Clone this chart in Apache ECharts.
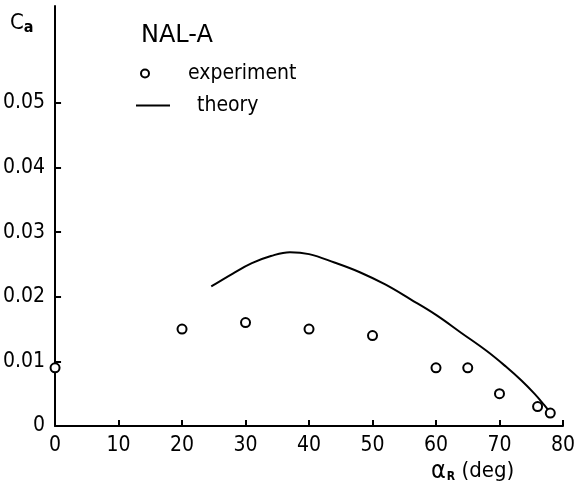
<!DOCTYPE html>
<html>
<head>
<meta charset="utf-8">
<script src="https://cdn.jsdelivr.net/npm/echarts@6/dist/echarts.min.js"></script>
<style>
  html, body { margin: 0; padding: 0; background: #fff; }
  #chart { width: 578px; height: 488px; }
</style>
</head>
<body>
<div id="chart"></div>
<script>
// NAL-A: measured and predicted C_a versus roll angle alpha_R
const expAlpha = [0, 20, 30, 40, 50, 60, 65, 70, 76, 78];
const expCa = [0.009, 0.015, 0.016, 0.015, 0.014, 0.009, 0.009, 0.005, 0.003, 0.002];

const theoryAlpha = [24.6, 28, 31, 34, 37, 40, 44, 48, 52, 56, 60, 64, 68, 71, 73.5, 75.5, 77, 77.8];
const theoryCa = [0.0216, 0.0236, 0.0252, 0.0263, 0.0269, 0.0266, 0.0253, 0.0238, 0.0219, 0.0196, 0.0172, 0.0144, 0.0116, 0.0092, 0.0070, 0.0050, 0.0033, 0.0023];

const yTicks = [0, 0.01, 0.02, 0.03, 0.04, 0.05];
const yTickLabels = ['0', '0.01', '0.02', '0.03', '0.04', '0.05'];
const xTicks = [0, 10, 20, 30, 40, 50, 60, 70, 80];

const FONT = '"DejaVu Sans Condensed", "DejaVu Sans", sans-serif';
const FONT_WIDE = '"DejaVu Sans", sans-serif';
const INK = '#000';

const chart = echarts.init(document.getElementById('chart'), null, { renderer: 'canvas' });

const pair = (xs, ys) => xs.map((x, i) => [x, ys[i]]);

const legendText = (gap) => ({
  fontFamily: FONT, fontSize: 21, color: INK,
  rich: { t: { fontFamily: FONT, fontSize: 21, color: INK, padding: [0, 0, 0, gap] } }
});

chart.setOption({
  backgroundColor: '#fff',
  animation: false,
  title: {
    text: 'NAL-A',
    left: 136,
    top: 19,
    textStyle: { fontFamily: FONT_WIDE, fontSize: 24, fontWeight: 'normal', color: INK }
  },
  legend: [
    {
      data: [{ name: 'experiment', icon: 'circle' }],
      left: 135,
      top: 58,
      itemWidth: 30,
      itemHeight: 8,
      itemStyle: { color: '#fff', borderColor: INK, borderWidth: 2 },
      formatter: '{t|{name}}',
      textStyle: legendText(23)
    },
    {
      data: [{ name: 'theory', icon: 'rect' }],
      left: 131,
      top: 90,
      itemWidth: 34,
      itemHeight: 2,
      itemStyle: { color: INK, borderWidth: 0 },
      lineStyle: { width: 0 },
      formatter: '{t|{name}}',
      textStyle: legendText(22)
    }
  ],
  grid: { left: 52, right: 10, top: 6, bottom: 62, containLabel: false },
  xAxis: {
    type: 'value',
    min: 0,
    max: 80,
    interval: 10,
    axisLine: { show: true, lineStyle: { color: INK, width: 2 } },
    axisTick: { show: true, inside: true, length: 6, lineStyle: { color: INK, width: 2 } },
    axisLabel: {
      margin: 9,
      fontFamily: FONT, fontSize: 21, color: INK,
      customValues: xTicks,
      showMinLabel: true, showMaxLabel: true
    },
    splitLine: { show: false }
  },
  yAxis: {
    type: 'value',
    min: 0,
    max: 0.065,
    interval: 0.01,
    axisLine: { show: true, lineStyle: { color: INK, width: 2 } },
    axisTick: { show: true, inside: true, length: 6, lineStyle: { color: INK, width: 2 }, customValues: yTicks },
    axisLabel: {
      margin: 10,
      fontFamily: FONT, fontSize: 21, color: INK,
      customValues: yTicks,
      formatter: (v) => {
        const i = yTicks.findIndex(t => Math.abs(t - v) < 1e-9);
        return i >= 0 ? yTickLabels[i] : '';
      }
    },
    splitLine: { show: false }
  },
  graphic: [
    {
      type: 'text',
      left: 10,
      top: 12,
      style: {
        text: '{c|C}{s|a}',
        rich: {
          c: { fontFamily: FONT, fontSize: 22, fill: INK },
          s: { fontFamily: FONT, fontSize: 16, fontWeight: 'bold', fill: INK, padding: [9, 0, 0, 0] }
        }
      }
    },
    {
      type: 'text',
      left: 431,
      top: 459,
      style: {
        text: '{a|α}{s|R}{d| (deg)}',
        rich: {
          a: { fontFamily: FONT, fontSize: 25, fill: INK },
          s: { fontFamily: FONT, fontSize: 12, fontWeight: 'bold', fill: INK, padding: [10, 0, 0, 1] },
          d: { fontFamily: FONT, fontSize: 22, fill: INK }
        }
      }
    }
  ],
  series: [
    {
      name: 'experiment',
      type: 'scatter',
      data: pair(expAlpha, expCa),
      symbol: 'circle',
      symbolSize: 9,
      itemStyle: { color: '#fff', borderColor: INK, borderWidth: 2, opacity: 1 },
      z: 3
    },
    {
      name: 'theory',
      type: 'line',
      data: pair(theoryAlpha, theoryCa),
      smooth: 0.4,
      symbol: 'none',
      showSymbol: false,
      lineStyle: { color: INK, width: 2 },
      itemStyle: { color: INK },
      z: 2
    }
  ]
});
</script>
</body>
</html>
